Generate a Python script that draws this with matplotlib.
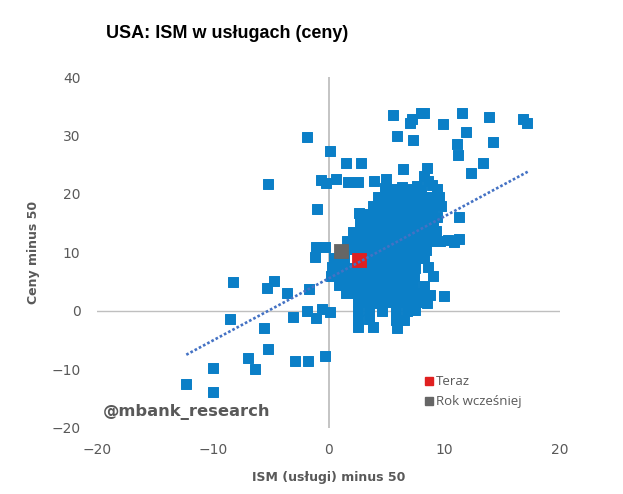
import numpy as np
import matplotlib
matplotlib.use("Agg")
import matplotlib.pyplot as plt
from matplotlib.lines import Line2D

# punkty historyczne (ISM uslugi - 50, ceny - 50)
hist_x = [
    -12.3, -10.0, -10.0, -8.3, -8.5, -7.0, -6.4, -5.2, -5.6, -5.3, -4.7, -3.6,
    -2.9, -1.8, -0.3, -3.1, -1.9, -1.1, -0.6, 0.1, -1.7, -5.2, -1.9, 0.1,
    -0.7, -0.2, 0.6, -1.0, -1.1, -1.2, -0.3,
    1.5, 2.8, 1.7, 2.5, 3.9, 2.6, 3.6, 5.6, 7.0, 7.2, 8.0, 8.2, 5.9, 7.3,
    11.5, 9.9, 11.9, 13.9, 16.8, 17.1, 11.1, 11.2, 14.2, 13.3, 12.3, 11.3,
    9.4, 6.4, 8.5,
    10.3, 10.8, 11.3, 10.0, 8.5,
    5.0, 8.2, 8.6,
    4.9, 5.6, 6.3, 7.0, 7.6, 8.0, 8.9, 9.4,
    4.3, 5.1, 5.9, 6.7, 7.4, 8.1, 8.7, 9.5,
    3.8, 4.6, 5.4, 6.2, 7.0, 7.8, 8.5, 9.2, 9.7,
    3.3, 4.1, 4.9, 5.7, 6.5, 7.3, 8.1, 8.9,
    2.7, 3.5, 4.3, 5.1, 5.9, 6.7, 7.5, 8.3, 9.0,
    2.1, 2.9, 3.7, 4.5, 5.3, 6.1, 6.9, 7.7, 8.5, 9.3,
    1.6, 2.4, 3.2, 4.0, 4.8, 5.6, 6.4, 7.2, 8.0, 8.8, 9.6,
    1.2, 2.0, 2.8, 3.6, 4.4, 5.2, 6.0, 6.8, 7.6, 8.4,
    0.5, 1.3, 3.4, 4.2, 5.0, 5.8, 6.6, 7.4, 8.2,
    0.3, 1.1, 1.9, 2.7, 3.5, 4.3, 5.1, 5.9, 6.7, 7.5, 8.6,
    0.2, 1.0, 1.8, 2.6, 3.4, 4.2, 5.0, 5.8, 6.6, 7.4, 9.0,
    0.9, 1.7, 2.5, 3.3, 4.1, 4.9, 5.7, 6.5, 7.3, 8.2,
    1.5, 2.3, 3.1, 3.9, 4.7, 5.5, 6.3, 7.1, 7.9, 8.8,
    2.5, 3.3, 4.1, 4.9, 5.7, 6.5, 7.3, 8.0,
    2.5, 3.5, 4.6, 5.8, 6.8, 7.5,
    2.5, 3.5, 5.8, 6.5,
    2.5, 3.8, 5.9,
]
hist_y = [
    -12.5, -13.8, -9.7, 5.0, -1.4, -8.0, -9.9, -6.5, -2.9, 3.9, 5.1, 3.1,
    -8.5, -8.5, -7.7, -1.0, 0.0, -1.2, 0.3, -0.2, 3.8, 21.7, 29.7, 27.4,
    22.4, 21.9, 22.6, 17.4, 10.9, 9.2, 10.9,
    25.3, 25.3, 22.1, 22.1, 22.2, 16.8, 16.4, 33.5, 32.2, 32.8, 33.8, 33.8, 29.9, 29.2,
    33.8, 32.0, 30.6, 33.2, 32.8, 32.1, 28.5, 26.7, 28.9, 25.3, 23.6, 16.1,
    16.1, 24.3, 24.4,
    12.1, 11.8, 12.3, 2.6, 1.4,
    22.6, 23.0, 22.3,
    21.0, 20.8, 21.2, 20.9, 21.3, 20.7, 21.5, 20.8,
    19.5, 19.4, 19.6, 19.5, 19.6, 19.4, 19.5, 19.4,
    18.0, 17.9, 18.1, 18.0, 18.1, 17.9, 18.0, 18.2, 17.9,
    16.5, 16.6, 16.4, 16.5, 16.4, 16.6, 16.4, 16.6,
    15.0, 15.1, 14.9, 15.0, 14.9, 15.1, 14.9, 15.1, 15.0,
    13.5, 13.4, 13.6, 13.5, 13.6, 13.4, 13.6, 13.5, 13.4, 13.6,
    12.0, 12.1, 11.9, 12.1, 11.9, 12.0, 11.9, 12.1, 11.9, 12.0, 12.0,
    10.5, 10.6, 10.4, 10.5, 10.4, 10.6, 10.4, 10.5, 10.4, 10.5,
    9.0, 9.1, 9.0, 8.9, 9.0, 8.9, 9.1, 8.9, 9.0,
    7.5, 7.6, 7.4, 7.3, 7.5, 7.4, 7.6, 7.4, 7.5, 7.4, 7.5,
    6.0, 6.1, 5.9, 6.0, 5.9, 6.1, 5.9, 6.0, 5.9, 6.0, 5.9,
    4.5, 4.4, 4.6, 4.5, 4.6, 4.4, 4.6, 4.5, 4.5, 4.3,
    3.0, 3.1, 2.9, 3.0, 2.9, 3.1, 2.9, 3.0, 3.1, 2.8,
    1.5, 1.6, 1.4, 1.6, 1.5, 1.6, 1.4, 1.5,
    0.0, 0.1, -0.1, 0.1, -0.1, 0.1,
    -1.5, -1.4, -1.5, -1.6,
    -2.8, -2.8, -3.0,
]

teraz_x, teraz_y = [2.6], [8.7]
rok_x, rok_y = [1.1], [10.3]

# linia trendu (koncowki)
trend_x = [-12.3, 17.2]
trend_y = [-7.5, 23.8]

blue = "#0B7FC7"
grey_txt = "#595959"

fig = plt.figure(figsize=(6.23, 4.94), dpi=100)
ax = fig.add_axes([0.156, 0.134, 0.743, 0.710])

ax.axhline(0, color="#BFBFBF", lw=1, zorder=1)
ax.axvline(0, color="#BFBFBF", lw=1.3, zorder=1)

ax.scatter(hist_x, hist_y, marker="s", s=50, color=blue, edgecolors=blue,
           linewidths=0.7, zorder=2)
ax.scatter(rok_x, rok_y, marker="s", s=110, color="#666666", edgecolors="#666666",
           linewidths=0.6, zorder=4)
ax.scatter(teraz_x, teraz_y, marker="s", s=110, color="#E02020", edgecolors="#E02020",
           linewidths=0.6, zorder=4)
ax.plot(trend_x, trend_y, color="#4472C4", lw=1.9, linestyle=(0, (1, 0.8)), zorder=5)

ax.set_xlim(-20, 20)
ax.set_ylim(-20, 40)
ax.set_xticks([-20, -10, 0, 10, 20])
ax.set_yticks([-20, -10, 0, 10, 20, 30, 40])
for s in ax.spines.values():
    s.set_visible(False)
ax.tick_params(length=0, labelsize=10, labelcolor=grey_txt)
ax.tick_params(axis="y", pad=12)
ax.tick_params(axis="x", pad=11)

ax.set_xlabel("ISM (usługi) minus 50", fontsize=9, fontweight="bold", color=grey_txt, labelpad=10)
ax.set_ylabel("Ceny minus 50", fontsize=9, fontweight="bold", color=grey_txt, labelpad=8)

handles = [
    Line2D([], [], marker="s", linestyle="none", color="#E02020", markersize=6),
    Line2D([], [], marker="s", linestyle="none", color="#666666", markersize=6),
]
leg = ax.legend(handles, ["Teraz", "Rok wcześniej"], loc="upper left",
                bbox_to_anchor=(0.706, 0.15), frameon=False, borderpad=0,
                borderaxespad=0, handlelength=0.7, handletextpad=0.2,
                labelspacing=0.55, prop={"family": "Open Sans", "size": 9.5})
for t in leg.get_texts():
    t.set_color(grey_txt)

fig.text(0.17, 0.933, "USA: ISM w usługach (ceny)", fontsize=13, fontweight="bold",
         family="Liberation Sans", va="center", ha="left")
fig.text(0.165, 0.166, "@mbank_research", fontsize=11.8, fontweight="bold",
         color=grey_txt, va="center", ha="left")

fig.savefig("out.png", dpi=100)
